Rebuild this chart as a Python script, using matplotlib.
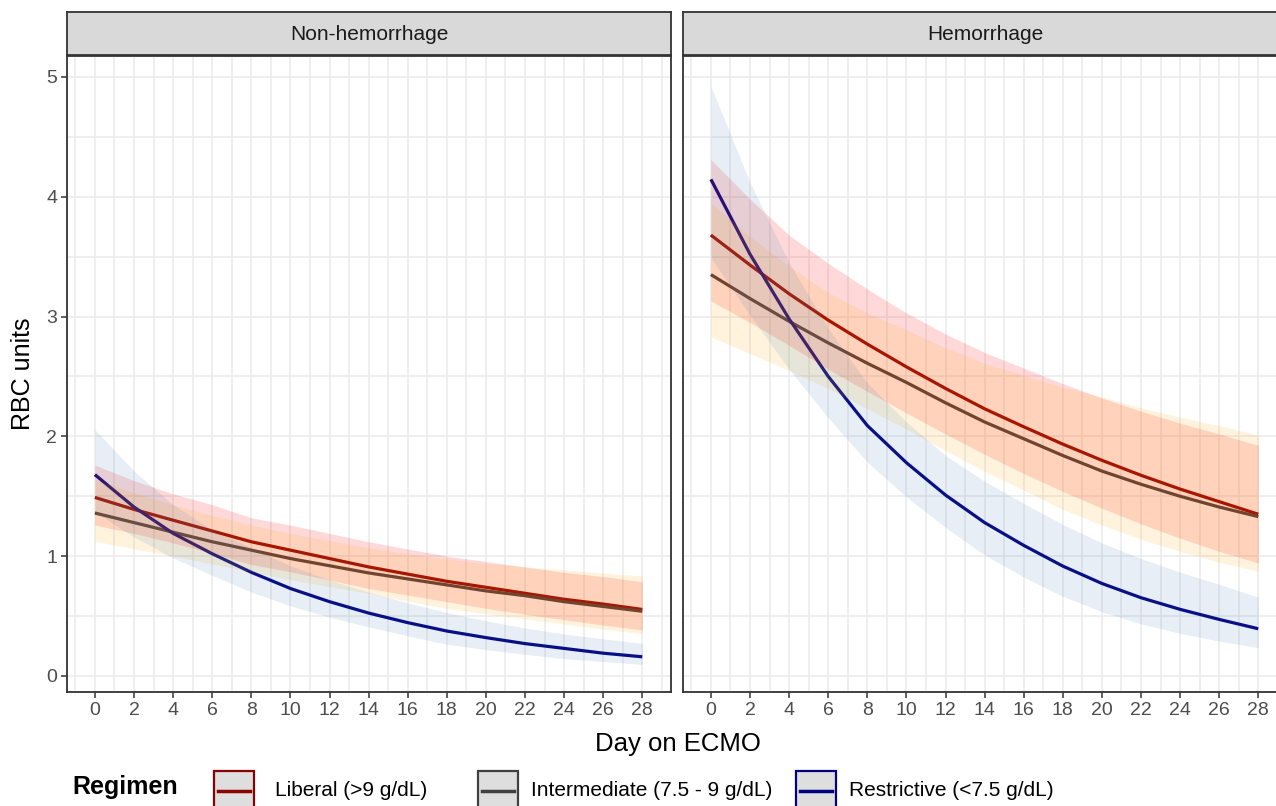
import numpy as np
import matplotlib.pyplot as plt
from matplotlib.patches import Rectangle
from matplotlib.lines import Line2D

plt.rcParams['font.family'] = ['Liberation Sans', 'DejaVu Sans']

days = [0, 2, 4, 6, 8, 10, 12, 14, 16, 18, 20, 22, 24, 26, 28]
panels = ['Non-hemorrhage', 'Hemorrhage']
regimens = ['Liberal (>9 g/dL)', 'Intermediate (7.5 - 9 g/dL)', 'Restrictive (<7.5 g/dL)']

# Non-hemorrhage: fitted RBC units and confidence band
nh_lib = [1.49, 1.39, 1.30, 1.21, 1.12, 1.05, 0.98, 0.91, 0.85, 0.79, 0.74, 0.69, 0.64, 0.60, 0.555]
nh_lib_lo = [1.26, 1.19, 1.11, 1.025, 0.93, 0.87, 0.80, 0.73, 0.675, 0.62, 0.565, 0.515, 0.47, 0.425, 0.383]
nh_lib_hi = [1.76, 1.63, 1.52, 1.43, 1.32, 1.26, 1.19, 1.12, 1.06, 1.00, 0.955, 0.91, 0.865, 0.83, 0.786]
nh_int = [1.36, 1.28, 1.20, 1.12, 1.05, 0.98, 0.92, 0.86, 0.81, 0.76, 0.71, 0.67, 0.62, 0.58, 0.54]
nh_int_lo = [1.125, 1.06, 1.00, 0.935, 0.87, 0.805, 0.745, 0.69, 0.625, 0.565, 0.52, 0.475, 0.435, 0.39, 0.353]
nh_int_hi = [1.64, 1.53, 1.43, 1.34, 1.26, 1.19, 1.13, 1.07, 1.02, 0.975, 0.94, 0.91, 0.885, 0.86, 0.833]
nh_res = [1.68, 1.41, 1.19, 1.02, 0.865, 0.73, 0.62, 0.525, 0.445, 0.375, 0.32, 0.27, 0.23, 0.19, 0.16]
nh_res_lo = [1.37, 1.16, 0.985, 0.84, 0.70, 0.585, 0.49, 0.41, 0.335, 0.265, 0.22, 0.18, 0.145, 0.12, 0.097]
nh_res_hi = [2.055, 1.71, 1.43, 1.22, 1.07, 0.92, 0.80, 0.70, 0.61, 0.53, 0.46, 0.40, 0.35, 0.31, 0.272]

# Hemorrhage
h_lib = [3.68, 3.43, 3.19, 2.97, 2.77, 2.58, 2.40, 2.23, 2.08, 1.935, 1.80, 1.675, 1.56, 1.455, 1.35]
h_lib_lo = [3.13, 2.95, 2.76, 2.56, 2.375, 2.195, 2.02, 1.85, 1.69, 1.54, 1.40, 1.27, 1.15, 1.04, 0.944]
h_lib_hi = [4.31, 3.98, 3.68, 3.445, 3.23, 3.03, 2.855, 2.70, 2.57, 2.44, 2.32, 2.21, 2.11, 2.02, 1.925]
h_int = [3.35, 3.15, 2.96, 2.78, 2.61, 2.45, 2.28, 2.12, 1.98, 1.84, 1.71, 1.60, 1.50, 1.41, 1.33]
h_int_lo = [2.83, 2.69, 2.55, 2.40, 2.23, 2.06, 1.88, 1.71, 1.55, 1.39, 1.26, 1.14, 1.04, 0.95, 0.875]
h_int_hi = [3.95, 3.67, 3.42, 3.20, 3.03, 2.89, 2.74, 2.61, 2.51, 2.41, 2.33, 2.24, 2.16, 2.09, 2.01]
h_res = [4.145, 3.52, 2.98, 2.50, 2.09, 1.78, 1.51, 1.28, 1.09, 0.917, 0.772, 0.653, 0.556, 0.472, 0.394]
h_res_lo = [3.49, 3.01, 2.56, 2.155, 1.785, 1.495, 1.24, 1.01, 0.826, 0.665, 0.536, 0.435, 0.356, 0.291, 0.236]
h_res_hi = [4.92, 4.12, 3.45, 2.90, 2.445, 2.12, 1.84, 1.625, 1.44, 1.265, 1.11, 0.98, 0.867, 0.765, 0.658]

data = {
    'Non-hemorrhage': [(nh_lib, nh_lib_lo, nh_lib_hi), (nh_int, nh_int_lo, nh_int_hi), (nh_res, nh_res_lo, nh_res_hi)],
    'Hemorrhage': [(h_lib, h_lib_lo, h_lib_hi), (h_int, h_int_lo, h_int_hi), (h_res, h_res_lo, h_res_hi)],
}

line_cols = ['#8B0000', '#404040', '#000080']
band_cols = ['#FF0000', '#FFA500', '#4682B4']
band_alpha = [0.15, 0.13, 0.13]

W, H = 1276, 806
fig = plt.figure(figsize=(W / 100, H / 100), dpi=100)

def fx(x):
    return x / W

def fy(y):
    return 1 - y / H

border = '#333333'
panel_left = [67, 683]
panel_w = 604
top, bottom = 56, 692
strip_top = 12

for i, name in enumerate(panels):
    ax = fig.add_axes([fx(panel_left[i]), fy(bottom), panel_w / W, (bottom - top) / H])
    for k in range(3):
        mid, lo, hi = data[name][k]
        ax.plot(days, mid, color=line_cols[k], lw=2.3, zorder=2, solid_capstyle='butt')
    for k in range(3):
        mid, lo, hi = data[name][k]
        ax.fill_between(days, lo, hi, color=band_cols[k], alpha=band_alpha[k], lw=0, zorder=3)

    ax.set_xlim(-1.43, 29.47)
    ax.set_ylim(-0.134, 5.175)
    ax.set_xticks(np.arange(0, 29, 2))
    ax.set_xticks(np.arange(-1, 30, 2), minor=True)
    ax.set_yticks([0, 1, 2, 3, 4, 5])
    ax.set_yticks([0.5, 1.5, 2.5, 3.5, 4.5], minor=True)
    ax.grid(True, which='both', color='#EBEBEB', lw=1.1, zorder=0)
    ax.set_axisbelow(True)
    ax.tick_params(which='major', length=4, width=1.1, color=border, labelsize=14,
                   labelcolor='#4D4D4D', pad=3)
    ax.tick_params(which='minor', length=0)
    if i == 1:
        ax.tick_params(axis='y', which='major', length=0, labelleft=False)
    for s in ax.spines.values():
        s.set_color(border)
        s.set_linewidth(1.3)

    st = fig.add_axes([fx(panel_left[i]), fy(top - 1), panel_w / W, (top - 1 - strip_top) / H])
    st.set_facecolor('#D9D9D9')
    st.set_xticks([])
    st.set_yticks([])
    for s in st.spines.values():
        s.set_color(border)
        s.set_linewidth(1.3)
    st.text(0.5, 0.48, name, ha='center', va='center', fontsize=15, color='#1A1A1A',
            transform=st.transAxes)

fig.text(fx(678), fy(744), 'Day on ECMO', ha='center', va='center', fontsize=18.5)
fig.text(fx(23), fy(374), 'RBC units', ha='center', va='center', fontsize=18, rotation=90)

# legend
fig.text(fx(72), fy(787), 'Regimen', ha='left', va='center', fontsize=18, fontweight='bold')
key_x = [214, 478, 796]
text_x = [275, 531, 849]
for k in range(3):
    fig.patches.append(Rectangle((fx(key_x[k]), fy(812)), 40 / W, 41 / H, transform=fig.transFigure,
                                 facecolor='#DEDEDE', edgecolor=line_cols[k], lw=1.6, clip_on=False))
    fig.lines.append(Line2D([fx(key_x[k] + 4), fx(key_x[k] + 36)], [fy(791), fy(791)],
                            transform=fig.transFigure, color=line_cols[k], lw=2.5))
    fig.text(fx(text_x[k]), fy(790), regimens[k], ha='left', va='center', fontsize=15)

fig.savefig('out.png', dpi=100)
